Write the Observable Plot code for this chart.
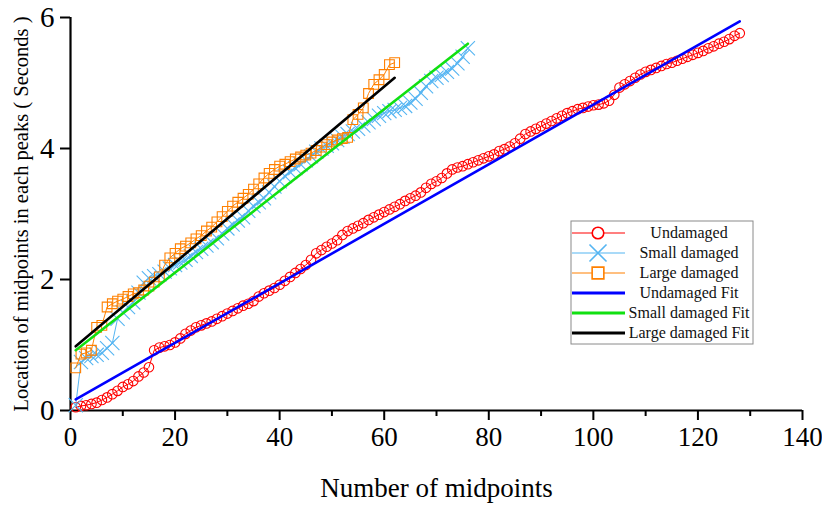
<!DOCTYPE html>
<html>
<head>
<meta charset="utf-8">
<script src="https://cdn.jsdelivr.net/npm/d3@7"></script>
<script src="https://cdn.jsdelivr.net/npm/@observablehq/plot@0.6"></script>
<style>
  html, body { margin: 0; padding: 0; background: #fff; }
  #chart { width: 822px; height: 506px; }
  #chart svg, #chart svg text { font-family: 'Liberation Serif', 'Times New Roman', serif !important; }
</style>
</head>
<body>
<div id="chart"></div>
<script>
// ---- Data ----
const undamagedY = [
  0.05,0.07,0.08,0.10,0.12,0.16,0.20,0.25,0.30,0.36,
  0.40,0.45,0.52,0.58,0.66,0.92,0.96,0.98,1.00,1.04,
  1.10,1.17,1.22,1.27,1.30,1.33,1.36,1.40,1.44,1.48,
  1.52,1.56,1.60,1.63,1.67,1.74,1.79,1.83,1.87,1.92,
  1.98,2.04,2.10,2.16,2.22,2.30,2.40,2.45,2.50,2.55,
  2.60,2.68,2.74,2.78,2.82,2.86,2.91,2.95,2.99,3.03,
  3.07,3.11,3.15,3.20,3.24,3.28,3.33,3.40,3.46,3.50,
  3.55,3.62,3.68,3.71,3.73,3.76,3.79,3.82,3.85,3.88,
  3.91,3.96,3.99,4.03,4.08,4.15,4.22,4.26,4.30,4.34,
  4.38,4.42,4.46,4.50,4.54,4.57,4.60,4.62,4.64,4.66,
  4.67,4.69,4.73,4.82,4.93,4.98,5.03,5.08,5.13,5.17,
  5.20,5.23,5.26,5.29,5.31,5.34,5.37,5.40,5.43,5.46,
  5.49,5.53,5.56,5.60,5.63,5.67,5.72,5.76
];
const smallY = [
  0.08,0.74,0.80,0.83,0.85,0.88,0.95,1.03,1.40,1.50,
  1.58,1.65,1.80,1.95,2.02,2.05,2.08,2.12,2.17,2.22,
  2.26,2.30,2.36,2.42,2.47,2.52,2.57,2.63,2.70,2.78,
  2.84,2.90,2.95,3.05,3.12,3.18,3.24,3.33,3.42,3.50,
  3.58,3.64,3.70,3.76,3.82,3.88,3.95,4.00,4.04,4.08,
  4.13,4.18,4.22,4.26,4.30,4.35,4.40,4.45,4.50,4.54,
  4.57,4.59,4.62,4.65,4.70,4.76,4.85,4.95,5.03,5.08,
  5.12,5.17,5.22,5.30,5.40,5.53
];
const largeY = [
  0.65,0.86,0.88,0.92,1.27,1.30,1.58,1.63,1.67,1.70,
  1.74,1.78,1.80,1.84,1.90,1.96,2.04,2.22,2.33,2.40,
  2.47,2.51,2.56,2.62,2.67,2.74,2.80,2.88,2.96,3.04,
  3.12,3.18,3.24,3.30,3.38,3.46,3.55,3.62,3.68,3.73,
  3.76,3.80,3.84,3.87,3.90,3.93,3.97,4.02,4.06,4.10,
  4.13,4.15,4.17,4.44,4.52,4.62,4.84,4.98,5.05,5.13,
  5.28,5.31
];
// Fit lines: value at first and last midpoint
const fitStartY = [0.17, 0.92, 0.98];
const fitEndY = [5.94, 5.60, 5.08];

const seriesNames = ["Undamaged", "Small damaged", "Large damaged"];
const fitNames = ["Undamaged Fit", "Small damaged Fit", "Large damaged Fit"];
const xTicks = [0, 20, 40, 60, 80, 100, 120, 140];
const xMinorTicks = [10, 30, 50, 70, 90, 110, 130];
const yTicks = [0, 2, 4, 6];
const xLabel = "Number of midpoints";
const yLabel = "Location of midpoints in each peaks ( Seconds )";

// ---- Styles ----
const colors = {
  "Undamaged": "#ff0000", "Small damaged": "#55b5f2", "Large damaged": "#ff8000",
  "Undamaged Fit": "#0000ff", "Small damaged Fit": "#11e011", "Large damaged Fit": "#000000"
};
const symbols = {"Undamaged": "circle", "Small damaged": "times", "Large damaged": "square"};
const rs = {"Undamaged": 4.8, "Small damaged": 6.5, "Large damaged": 5.5};

const toRows = (arr, name) => arr.map((y, i) => ({x: i + 1, y, series: name}));
const datasets = [toRows(undamagedY, seriesNames[0]), toRows(smallY, seriesNames[1]), toRows(largeY, seriesNames[2])];
const fitRows = datasets.map((d, i) => [
  {x: d[0].x, y: fitStartY[i]},
  {x: d[d.length - 1].x, y: fitEndY[i]}
]);

const FONT = "Liberation Serif";

const marks = [];
datasets.forEach((d, i) => {
  const n = seriesNames[i];
  marks.push(Plot.line(d, {x: "x", y: "y", stroke: colors[n], strokeWidth: 1}));
  marks.push(Plot.dot(d, {x: "x", y: "y", symbol: symbols[n], r: rs[n], stroke: colors[n], strokeWidth: 1.1, fill: "none"}));
});
fitRows.forEach((d, i) => {
  marks.push(Plot.line(d, {x: "x", y: "y", stroke: colors[fitNames[i]], strokeWidth: 2.6}));
});

const chart = Plot.plot({
  width: 822,
  height: 506,
  marginLeft: 70,
  marginRight: 20,
  marginTop: 17,
  marginBottom: 96,
  style: {fontFamily: FONT, background: "#fff", overflow: "visible"},
  x: {domain: [0, 140]},
  y: {domain: [0, 6]},
  marks: [
    Plot.axisX({ticks: xTicks, tickSize: 10, tickPadding: 6, fontSize: 27, fontFamily: FONT, label: null, strokeWidth: 2, tickFormat: d => String(d)}),
    Plot.axisX({ticks: xMinorTicks, tickSize: 6, tickFormat: () => "", label: null, strokeWidth: 2}),
    Plot.axisY({ticks: yTicks, tickSize: 10, tickPadding: 6, fontSize: 29, fontFamily: FONT, label: null, strokeWidth: 2, tickFormat: d => String(d)}),
    Plot.ruleX([0], {strokeWidth: 2.2}),
    Plot.ruleY([0], {strokeWidth: 2.2}),
    ...marks,
    Plot.text([yLabel], {frameAnchor: "left", dx: -49, rotate: -90, textAnchor: "middle", lineAnchor: "middle", fontSize: 20.5, fontFamily: FONT, fill: "#000"}),
    Plot.text([xLabel], {frameAnchor: "bottom", dy: 78, textAnchor: "middle", lineAnchor: "middle", fontSize: 27, fontFamily: FONT, fill: "#000"})
  ]
});
document.getElementById("chart").appendChild(chart);

// ---- Legend (drawn into the same SVG) ----
const svg = d3.select(chart);
const legendItems = [...seriesNames, ...fitNames];
const lg = svg.append("g").attr("font-family", FONT);
const lx = 571, ly = 221, lw = 182, lh = 123, rowH = 20;
lg.append("rect").attr("x", lx).attr("y", ly).attr("width", lw).attr("height", lh)
  .attr("fill", "#fff").attr("stroke", "#8a8a8a").attr("stroke-width", 1);
const symMap = {circle: d3.symbolCircle, times: d3.symbolTimes, square: d3.symbolSquare};
legendItems.forEach((name, i) => {
  const cy = ly + 12 + i * rowH;
  const isFit = i >= 3;
  lg.append("line").attr("x1", lx + 1).attr("x2", lx + 54).attr("y1", cy).attr("y2", cy)
    .attr("stroke", colors[name]).attr("stroke-width", isFit ? 3 : 1.2);
  if (!isFit) {
    const r = rs[name] * 1.2;
    lg.append("path")
      .attr("d", d3.symbol(symMap[symbols[name]], Math.PI * r * r)())
      .attr("transform", `translate(${lx + 27},${cy})`)
      .attr("fill", "#fff").attr("fill-opacity", symbols[name] === "times" ? 0 : 1)
      .attr("stroke", colors[name]).attr("stroke-width", 1.6);
  }
  lg.append("text").attr("x", lx + 118).attr("y", cy).attr("dy", "0.32em")
    .attr("text-anchor", "middle").attr("font-size", 16).attr("fill", "#111").text(name);
});
</script>
</body>
</html>
